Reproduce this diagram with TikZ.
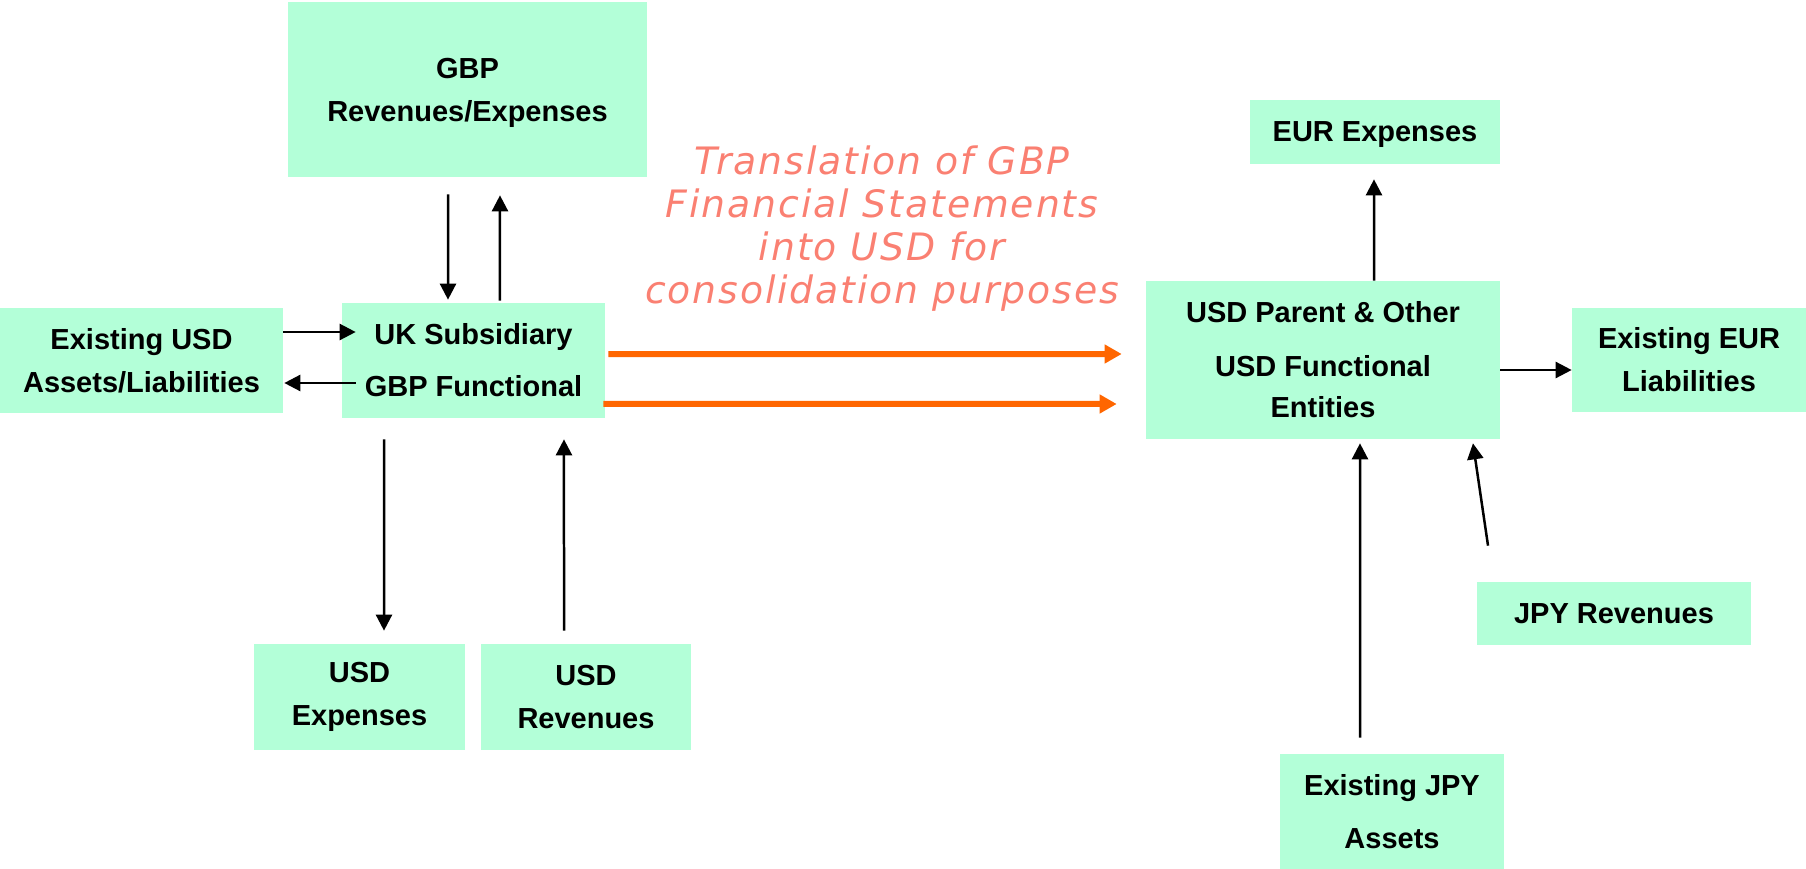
\documentclass[tikz,border=0pt]{standalone}
\usepackage{fontspec}
\setmainfont{Liberation Sans}
\newfontfamily\notefont[LetterSpace=5]{DejaVu Sans}
\usepackage{tikz}
\usetikzlibrary{arrows.meta}

\definecolor{mint}{RGB}{179,255,216}
\definecolor{salmonred}{RGB}{250,128,114}
\definecolor{fxorange}{RGB}{255,102,0}

\begin{document}
\begin{tikzpicture}[x=0.02cm,y=-0.02cm,
      >={Triangle[length=0.32cm,width=0.32cm]},
      box/.style={fill=mint,inner sep=0pt,align=center,
        font=\bfseries\fontsize{16.5}{24.5}\selectfont},
      link/.style={->,line width=0.05cm,black},
      trans/.style={-{Triangle[length=0.34cm,width=0.36cm]},line width=0.12cm,fxorange}]

    \useasboundingbox (0,0) rectangle (1806,869);

    % left group
    \node[box,minimum width=7.18cm,minimum height=3.5cm,text depth=0pt] (gbp) at (467.5,89.5) {GBP\\Revenues/Expenses};
    \node[box,minimum width=5.66cm,minimum height=2.1cm] (exusd) at (141.5,360.5) {Existing USD\\Assets/Liabilities};
    \node[box,minimum width=5.26cm,minimum height=2.3cm] (uk) at (473.5,360.5) {UK Subsidiary\\[5pt]GBP Functional};
    \node[box,minimum width=4.22cm,minimum height=2.12cm] (usdexp) at (359.5,697) {USD\\Expenses};
    \node[box,minimum width=4.2cm,minimum height=2.12cm] (usdrev) at (586,697) {USD\\Revenues};

    % right group
    \node[box,minimum width=5cm,minimum height=1.28cm,text depth=0pt] (eurexp) at (1375,132) {EUR Expenses};
    \node[box,minimum width=7.08cm,minimum height=3.16cm] (parent) at (1323,360) {USD Parent \& Other\\[6pt]USD Functional\\[-1pt]Entities};
    \node[box,minimum width=4.68cm,minimum height=2.08cm] (exeur) at (1689,360) {Existing EUR\\Liabilities};
    \node[box,minimum width=5.48cm,minimum height=1.26cm] (jpyrev) at (1614,613.5) {JPY Revenues};
    \node[box,minimum width=4.48cm,minimum height=2.3cm] (jpyass) at (1392,811.5) {Existing JPY\\[5.5pt]Assets};

    \node[align=center,text=salmonred,font=\notefont\itshape\fontsize{21.5}{24.5}\selectfont] (note) at (882,229)
      {Translation of GBP\\Financial Statements\\into USD for\\consolidation purposes};

    % flows of the UK subsidiary
    \draw[link] ([xshift=-0.39cm,yshift=-0.34cm]gbp.south) -- ([xshift=-0.51cm,yshift=0.06cm]uk.north);
    \draw[link] ([xshift=0.53cm,yshift=0.04cm]uk.north) -- ([xshift=0.65cm,yshift=-0.36cm]gbp.south);
    \draw[link] ([yshift=0.57cm]exusd.east) -- ([xshift=0.28cm,yshift=0.57cm]uk.west);
    \draw[link] ([xshift=0.28cm,yshift=-0.45cm]uk.west) -- ([xshift=0.02cm,yshift=-0.45cm]exusd.east);
    \draw[link] ([xshift=-1.79cm,yshift=-0.42cm]uk.south) -- ([xshift=0.49cm,yshift=0.26cm]usdexp.north);
    \draw[link] ([xshift=-0.44cm,yshift=0.26cm]usdrev.north) -- ([xshift=1.81cm,yshift=-0.42cm]uk.south);

    % translation
    \draw[trans] ([xshift=0.06cm,yshift=0.13cm]uk.east) -- ([xshift=-0.48cm,yshift=0.12cm]parent.west);
    \draw[trans] ([xshift=-0.04cm,yshift=-0.87cm]uk.east) -- ([xshift=-0.58cm,yshift=-0.88cm]parent.west);

    % flows of the parent
    \draw[link] ([xshift=1.02cm]parent.north) -- ([xshift=-0.02cm,yshift=-0.3cm]eurexp.south);
    \draw[link] ([yshift=-0.2cm]parent.east) -- ([yshift=-0.2cm]exeur.west);
    \draw[link] ([xshift=-0.64cm,yshift=0.32cm]jpyass.north) -- ([xshift=0.74cm,yshift=-0.08cm]parent.south);
    \draw[link] ([xshift=-2.52cm,yshift=0.72cm]jpyrev.north) -- ([xshift=3cm,yshift=-0.08cm]parent.south);

\end{tikzpicture}
\end{document}
